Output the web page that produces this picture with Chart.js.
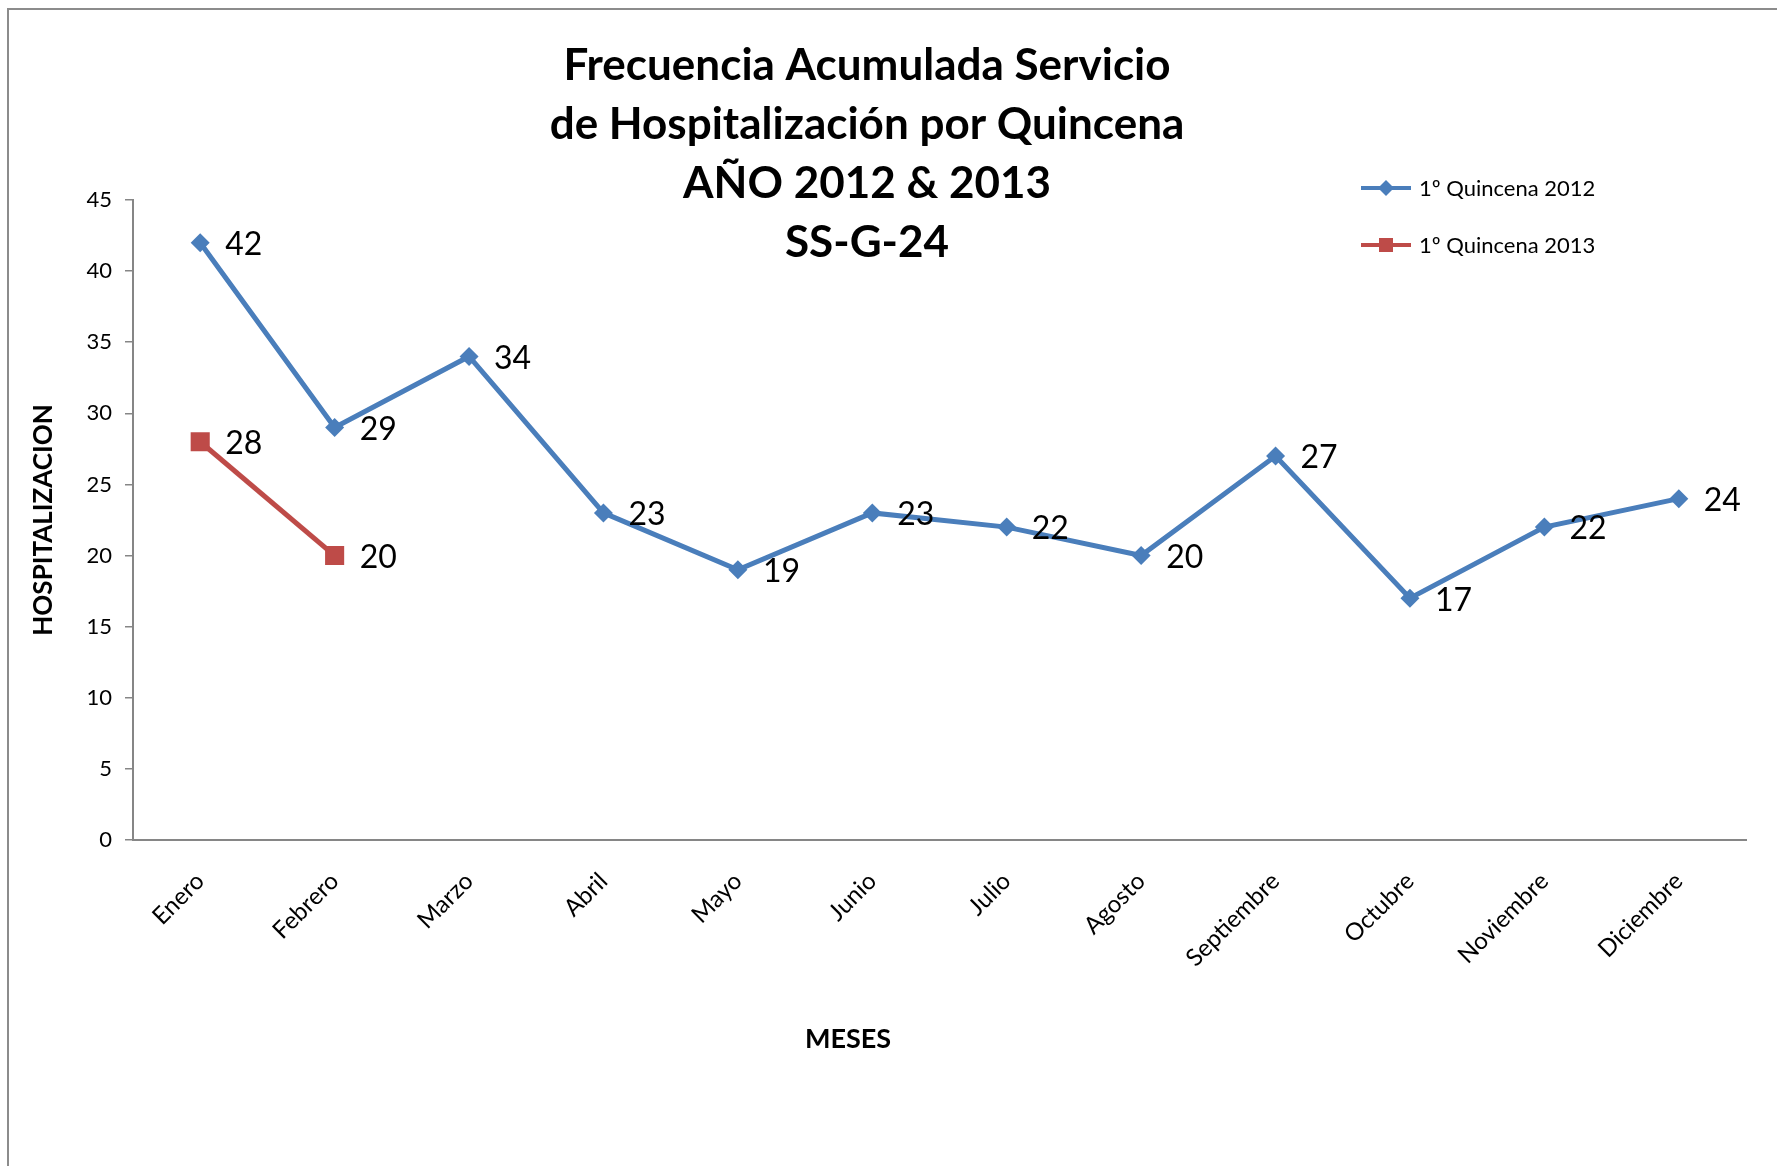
<!DOCTYPE html>
<html>
<head>
<meta charset="utf-8">
<script src="https://cdn.jsdelivr.net/npm/chart.js@4.4.1/dist/chart.umd.min.js"></script>
<style>
  html, body { margin:0; padding:0; background:#fff; overflow:hidden; width:1777px; height:1166px; }
  #frame { position:absolute; left:7px; top:8px; width:3000px; height:3000px; border:2px solid #8c8c8c; box-sizing:border-box; }
  #c { position:absolute; left:0; top:0; }
</style>
</head>
<body>
<div id="frame"></div>
<canvas id="c" width="1777" height="1166"></canvas>
<script>
const titleLines = ['Frecuencia Acumulada Servicio', 'de Hospitalización por Quincena', 'AÑO 2012 & 2013', 'SS-G-24'];
const months = ['Enero','Febrero','Marzo','Abril','Mayo','Junio','Julio','Agosto','Septiembre','Octubre','Noviembre','Diciembre'];
const quincena2012 = [42, 29, 34, 23, 19, 23, 22, 20, 27, 17, 22, 24];
const quincena2013 = [28, 20, null, null, null, null, null, null, null, null, null, null];
const seriesNames = ['1º Quincena 2012', '1º Quincena 2013'];
const yTitle = 'HOSPITALIZACION';
const xTitle = 'MESES';

const FONT = 'Lato, "Open Sans", sans-serif';
const BLUE = '#4A7EBB';
const RED = '#BE4B48';
const AXIS = '#868686';

const decor = {
  id: 'decor',
  afterDatasetsDraw(chart) {
    const ctx = chart.ctx;
    ctx.save();
    // data labels
    ctx.fillStyle = '#000';
    ctx.font = '32px ' + FONT;
    ctx.textAlign = 'left';
    ctx.textBaseline = 'middle';
    chart.data.datasets.forEach((ds, i) => {
      const meta = chart.getDatasetMeta(i);
      meta.data.forEach((pt, j) => {
        const v = ds.data[j];
        if (v === null || v === undefined) return;
        ctx.fillText(String(v), pt.x + 25, pt.y + 2);
      });
    });
    // title
    ctx.font = 'bold 44px ' + FONT;
    ctx.textAlign = 'center';
    titleLines.forEach((t, k) => ctx.fillText(t, 867, 66 + k * 59));
    // x axis title
    ctx.font = 'bold 27px ' + FONT;
    ctx.fillText(xTitle, 848, 1039);
    // legend
    const ly = [188, 245];
    chart.data.datasets.forEach((ds, i) => {
      const y = ly[i];
      ctx.strokeStyle = ds.borderColor;
      ctx.lineWidth = 4;
      ctx.beginPath(); ctx.moveTo(1361, y); ctx.lineTo(1411, y); ctx.stroke();
      ctx.fillStyle = ds.borderColor;
      ctx.beginPath();
      if (ds.pointStyle === 'rectRot') {
        const r = 8;
        ctx.moveTo(1386, y - r); ctx.lineTo(1386 + r, y); ctx.lineTo(1386, y + r); ctx.lineTo(1386 - r, y); ctx.closePath();
      } else {
        ctx.rect(1386 - 7, y - 7, 14, 14);
      }
      ctx.fill();
      ctx.fillStyle = '#000';
      ctx.font = '22px ' + FONT;
      ctx.textAlign = 'left';
      ctx.fillText(ds.label, 1419, y + 1);
    });
    ctx.restore();
  }
};

new Chart(document.getElementById('c'), {
  type: 'line',
  data: {
    labels: months,
    datasets: [
      { label: seriesNames[0], data: quincena2012, borderColor: BLUE, backgroundColor: BLUE,
        borderWidth: 5, pointStyle: 'rectRot', pointRadius: 9.5, pointBorderWidth: 0, tension: 0 },
      { label: seriesNames[1], data: quincena2013, borderColor: RED, backgroundColor: RED,
        borderWidth: 5, pointStyle: 'rect', pointRadius: 13.5, pointBorderWidth: 0, tension: 0, spanGaps: false }
    ]
  },
  options: {
    responsive: false,
    animation: false,
    devicePixelRatio: 1,
    layout: { padding: { top: 200, right: 31, left: 0, bottom: 0 } },
    plugins: { legend: { display: false }, tooltip: { enabled: false }, title: { display: false } },
    scales: {
      x: {
        offset: true,
        grid: { display: false, drawTicks: false },
        border: { display: true, color: AXIS, width: 2 },
        ticks: { color: '#000', font: { family: FONT, size: 24 }, maxRotation: 45, minRotation: 45, padding: 27, autoSkip: false },
        afterFit: (s) => { s.height = 326; }
      },
      y: {
        min: 0, max: 45,
        grid: { display: true, drawOnChartArea: false, drawTicks: true, tickLength: 8, color: AXIS, lineWidth: 1.5 },
        border: { display: true, color: AXIS, width: 2 },
        ticks: { stepSize: 5, color: '#000', font: { family: FONT, size: 22 }, padding: 13 },
        title: { display: true, text: yTitle, color: '#000', font: { family: FONT, size: 26, weight: 'bold' }, padding: { top: 28, bottom: 0 } },
        afterFit: (s) => { s.width = 133; }
      }
    }
  },
  plugins: [decor]
});
</script>
</body>
</html>
